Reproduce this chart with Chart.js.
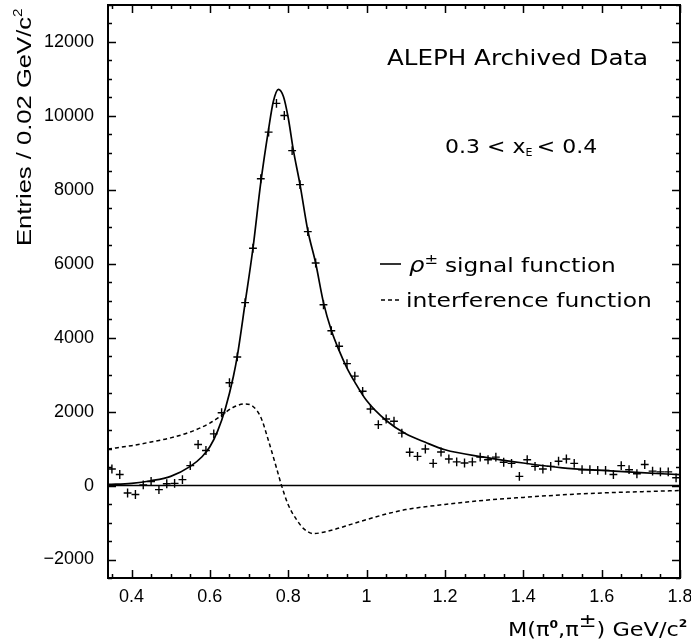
<!DOCTYPE html>
<html lang="en">
<head>
    <meta charset="UTF-8">
    <title>ALEPH rho signal fit</title>
    <script src="https://cdn.jsdelivr.net/npm/chart.js@4.4.1/dist/chart.umd.min.js"></script>
    <style>
        body { margin: 0; background: #fff; }
        #wrap { width: 691px; height: 641px; }
    </style>
</head>
<body>
    <div id="wrap"><canvas id="massChart" width="691" height="641"></canvas></div>

    <script>
        // bin centres, 0.02 GeV/c^2 wide
        const massBins = [0.35, 0.37, 0.39, 0.41, 0.43, 0.45, 0.47, 0.49, 0.51, 0.53,
            0.55, 0.57, 0.59, 0.61, 0.63, 0.65, 0.67, 0.69, 0.71, 0.73,
            0.75, 0.77, 0.79, 0.81, 0.83, 0.85, 0.87, 0.89, 0.91, 0.93,
            0.95, 0.97, 0.99, 1.01, 1.03, 1.05, 1.07, 1.09, 1.11, 1.13,
            1.15, 1.17, 1.19, 1.21, 1.23, 1.25, 1.27, 1.29, 1.31, 1.33,
            1.35, 1.37, 1.39, 1.41, 1.43, 1.45, 1.47, 1.49, 1.51, 1.53,
            1.55, 1.57, 1.59, 1.61, 1.63, 1.65, 1.67, 1.69, 1.71, 1.73,
            1.75, 1.77, 1.79];
        const entries = [450, 300, -200, -240, 20, 110, -110, 50, 60, 160,
            540, 1110, 950, 1400, 1970, 2780, 3480, 4950, 6420, 8300,
            9560, 10340, 10010, 9060, 8140, 6870, 6020, 4890, 4190, 3770,
            3300, 2960, 2550, 2070, 1650, 1800, 1740, 1420, 900, 790,
            990, 600, 910, 720, 640, 610, 640, 770, 700, 770,
            630, 600, 250, 700, 520, 450, 520, 660, 720, 600,
            430, 430, 410, 410, 300, 540, 430, 320, 570, 390,
            370, 370, 210];
        const entryErr = 120;
        const binHalf = 0.01;

        // rho signal function
        const signalMass = [0.34, 0.40, 0.45, 0.50, 0.55, 0.58, 0.60, 0.62, 0.64, 0.66,
            0.67, 0.69, 0.71, 0.73, 0.75, 0.762, 0.775, 0.788, 0.80, 0.813,
            0.83, 0.85, 0.87, 0.89, 0.91, 0.93, 0.95, 0.97, 1.00, 1.05,
            1.10, 1.15, 1.20, 1.30, 1.40, 1.50, 1.60, 1.70, 1.80];
        const signalVal = [30, 60, 130, 250, 520, 780, 1050, 1480, 2100, 2950,
            3500, 4940, 6420, 8200, 9650, 10390, 10720, 10520, 9950, 9080,
            8150, 6900, 6020, 4950, 4200, 3650, 3180, 2800, 2300, 1760,
            1400, 1170, 970, 770, 610, 480, 410, 350, 295];

        // interference function
        const interfMass = [0.34, 0.40, 0.45, 0.50, 0.55, 0.60, 0.63, 0.66, 0.69, 0.71,
            0.73, 0.75, 0.77, 0.783, 0.80, 0.82, 0.84, 0.865, 0.89, 0.92,
            0.96, 1.00, 1.05, 1.10, 1.20, 1.30, 1.40, 1.50, 1.60, 1.70, 1.80];
        const interfVal = [990, 1080, 1180, 1290, 1450, 1690, 1900, 2120, 2210, 2140,
            1850, 1200, 480, 0, -520, -900, -1170, -1300, -1260, -1180,
            -1050, -920, -770, -650, -510, -400, -320, -250, -200, -165, -135];

        const xTickVals = [0.4, 0.6, 0.8, 1.0, 1.2, 1.4, 1.6, 1.8];
        const xTickLabels = ['0.4', '0.6', '0.8', '1', '1.2', '1.4', '1.6', '1.8'];
        const yTickVals = [-2000, 0, 2000, 4000, 6000, 8000, 10000, 12000];
        const yTickLabels = ['\u22122000', '0', '2000', '4000', '6000', '8000', '10000', '12000'];

        const TICK_FONT = '"Liberation Sans", Arial, sans-serif';
        const TEXT_FONT = '"DejaVu Sans", sans-serif';

        // draws a run of text pieces, stretched horizontally by sx (the original font is wide)
        function drawParts(ctx, parts, x, y, sx) {
            ctx.save();
            ctx.translate(x, y);
            ctx.scale(sx || 1, 1);
            let cx = 0;
            parts.forEach(p => {
                ctx.font = p.font;
                ctx.fillText(p.t, cx, p.dy || 0);
                cx += ctx.measureText(p.t).width + (p.gap || 0);
            });
            ctx.restore();
        }

        const decor = {
            id: 'decor',
            afterDatasetsDraw(chart) {
                const ctx = chart.ctx;
                const xs = chart.scales.x, ys = chart.scales.y;
                const area = chart.chartArea;
                ctx.save();
                ctx.strokeStyle = '#000';
                // zero line
                ctx.lineWidth = 1.5;
                const y0 = ys.getPixelForValue(0);
                ctx.beginPath();
                ctx.moveTo(area.left, y0);
                ctx.lineTo(area.right, y0);
                ctx.stroke();
                // data crosses with error bars
                ctx.lineWidth = 1.4;
                massBins.forEach((m, i) => {
                    const px = xs.getPixelForValue(m);
                    const py = ys.getPixelForValue(entries[i]);
                    ctx.beginPath();
                    ctx.moveTo(xs.getPixelForValue(m - binHalf), py);
                    ctx.lineTo(xs.getPixelForValue(m + binHalf), py);
                    ctx.moveTo(px, ys.getPixelForValue(entries[i] + entryErr));
                    ctx.lineTo(px, ys.getPixelForValue(entries[i] - entryErr));
                    ctx.stroke();
                });
                ctx.restore();
            },
            afterDraw(chart) {
                const ctx = chart.ctx;
                const xs = chart.scales.x, ys = chart.scales.y;
                const a = chart.chartArea;
                ctx.save();
                ctx.strokeStyle = '#000';
                ctx.fillStyle = '#000';
                // frame
                ctx.lineWidth = 2;
                ctx.strokeRect(a.left, a.top, a.right - a.left, a.bottom - a.top);
                // ticks on all four sides, pointing in
                ctx.lineWidth = 1.5;
                ctx.beginPath();
                for (let k = 7; k <= 36; k++) {
                    const v = k * 0.05;
                    const px = Math.round(xs.getPixelForValue(v)) + 0.5;
                    const len = (k % 4 === 0) ? 8 : 4;
                    ctx.moveTo(px, a.bottom); ctx.lineTo(px, a.bottom - len);
                    ctx.moveTo(px, a.top); ctx.lineTo(px, a.top + len);
                }
                for (let k = -5; k <= 26; k++) {
                    const v = k * 500;
                    const py = Math.round(ys.getPixelForValue(v)) + 0.5;
                    const len = (k % 4 === 0) ? 8 : 4;
                    ctx.moveTo(a.left, py); ctx.lineTo(a.left + len, py);
                    ctx.moveTo(a.right, py); ctx.lineTo(a.right - len, py);
                }
                ctx.stroke();

                // annotations
                ctx.textAlign = 'left';
                ctx.textBaseline = 'alphabetic';
                drawParts(ctx, [{ t: 'ALEPH Archived Data', font: '21px ' + TEXT_FONT }], 387, 65, 1.17);

                drawParts(ctx, [
                    { t: '0.3 < x', font: '20px ' + TEXT_FONT },
                    { t: 'E', font: '10px ' + TEXT_FONT, dy: 3, gap: 4 },
                    { t: '< 0.4', font: '20px ' + TEXT_FONT }
                ], 445, 153, 1.1);

                // legend
                ctx.lineWidth = 1.6;
                ctx.beginPath();
                ctx.moveTo(380, 264); ctx.lineTo(401, 264);
                ctx.stroke();
                ctx.setLineDash([4, 3]);
                ctx.beginPath();
                ctx.moveTo(381, 300); ctx.lineTo(401, 300);
                ctx.stroke();
                ctx.setLineDash([]);
                drawParts(ctx, [
                    { t: '\u03C1', font: 'italic 21px ' + TEXT_FONT },
                    { t: '\u00B1', font: '14px ' + TEXT_FONT, dy: -8, gap: 6 },
                    { t: 'signal function', font: '20px ' + TEXT_FONT }
                ], 409, 272, 1.16);
                drawParts(ctx, [{ t: 'interference function', font: '20px ' + TEXT_FONT }], 406, 307, 1.17);

                // x axis title
                drawParts(ctx, [
                    { t: 'M(\u03C0', font: '20px ' + TEXT_FONT },
                    { t: '0', font: 'bold 11px ' + TEXT_FONT, dy: -8 },
                    { t: ',\u03C0', font: '20px ' + TEXT_FONT },
                    { t: '\u00B1', font: '19px ' + TEXT_FONT, dy: -9 },
                    { t: ') GeV/c', font: '20px ' + TEXT_FONT },
                    { t: '2', font: 'bold 11px ' + TEXT_FONT, dy: -9 }
                ], 508, 636, 1.12);

                // y axis title
                ctx.translate(31, 246);
                ctx.rotate(-Math.PI / 2);
                drawParts(ctx, [
                    { t: 'Entries / 0.02 GeV/c', font: '20px ' + TICK_FONT },
                    { t: '2', font: '12px ' + TICK_FONT, dy: -9 }
                ], 0, 0, 1.28);
                ctx.restore();
            }
        };

        const ctx = document.getElementById('massChart').getContext('2d');
        const massChart = new Chart(ctx, {
            type: 'scatter',
            data: {
                datasets: [
                    {
                        label: 'signal',
                        data: signalMass.map((m, i) => ({ x: m, y: signalVal[i] })),
                        showLine: true,
                        borderColor: '#000',
                        borderWidth: 1.7,
                        pointRadius: 0,
                        cubicInterpolationMode: 'monotone'
                    },
                    {
                        label: 'interference',
                        data: interfMass.map((m, i) => ({ x: m, y: interfVal[i] })),
                        showLine: true,
                        borderColor: '#000',
                        borderWidth: 1.5,
                        borderDash: [4, 3],
                        pointRadius: 0,
                        cubicInterpolationMode: 'monotone'
                    }
                ]
            },
            options: {
                responsive: false,
                animation: false,
                layout: { padding: { top: 5, right: 11, left: 0, bottom: 0 } },
                plugins: {
                    legend: { display: false },
                    tooltip: { enabled: false }
                },
                scales: {
                    x: {
                        type: 'linear',
                        min: 0.34,
                        max: 1.8,
                        grid: { display: false, drawTicks: false },
                        border: { display: false },
                        afterBuildTicks: s => { s.ticks = xTickVals.map(v => ({ value: v })); },
                        afterFit: s => { s.height = 63; s.paddingLeft = 0; s.paddingRight = 0; },
                        ticks: {
                            autoSkip: false,
                            maxRotation: 0,
                            padding: 8,
                            color: '#000',
                            font: { family: TICK_FONT, size: 18 },
                            callback: (v, i) => xTickLabels[i]
                        }
                    },
                    y: {
                        min: -2500,
                        max: 13000,
                        grid: { display: false, drawTicks: false },
                        border: { display: false },
                        afterBuildTicks: s => { s.ticks = yTickVals.map(v => ({ value: v })); },
                        afterFit: s => { s.width = 108; s.paddingTop = 0; s.paddingBottom = 0; },
                        ticks: {
                            autoSkip: false,
                            padding: 14,
                            color: '#000',
                            font: { family: TICK_FONT, size: 18 },
                            callback: (v, i) => yTickLabels[i]
                        }
                    }
                }
            },
            plugins: [decor]
        });
    </script>
</body>
</html>
